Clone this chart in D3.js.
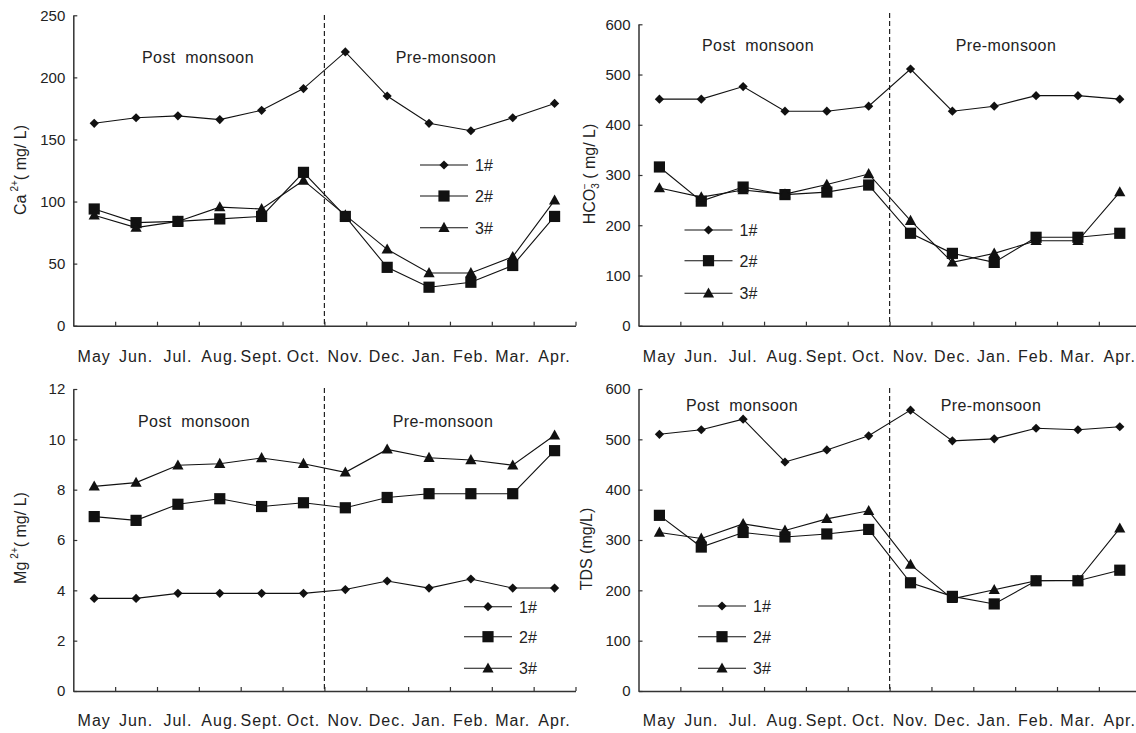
<!DOCTYPE html>
<html>
<head>
<meta charset="utf-8">
<script src="https://cdn.jsdelivr.net/npm/d3@7"></script>
<style>
  body { margin: 0; background: #fff; }
  svg text { font-family: "Liberation Sans", Arial, sans-serif; fill: #222; }
</style>
</head>
<body>
<svg id="chart" width="1136" height="733"></svg>
<script>
// months and sites
const months = ["May", "Jun.", "Jul.", "Aug.", "Sept.", "Oct.", "Nov.", "Dec.", "Jan.", "Feb.", "Mar.", "Apr."];
const sites = ["1#", "2#", "3#"];

// Ca2+ (mg/L)
const ca1 = [163, 167.5, 169, 166, 173.5, 191, 220.5, 185, 163, 157, 167.5, 179];
const ca2 = [94, 83, 84, 86, 88, 123.5, 88, 47, 31, 35, 48.5, 88];
const ca3 = [89, 79, 84, 95.5, 94, 117, 89, 61.5, 42.5, 42.5, 55.5, 101];

// HCO3- (mg/L)
const hco1 = [451, 451, 476, 427, 427, 437, 511, 427, 437, 458, 458, 451];
const hco2 = [316, 248, 276, 261, 266, 280, 184, 144, 126, 176, 176, 184];
const hco3 = [274, 256, 270, 262, 281, 302, 209, 126, 144, 169, 169, 266];

// Mg2+ (mg/L)
const mg1 = [3.68, 3.68, 3.88, 3.88, 3.88, 3.88, 4.03, 4.37, 4.09, 4.45, 4.09, 4.09];
const mg2 = [6.93, 6.78, 7.42, 7.64, 7.33, 7.48, 7.28, 7.69, 7.84, 7.84, 7.84, 9.55];
const mg3 = [8.13, 8.28, 8.97, 9.03, 9.26, 9.03, 8.69, 9.6, 9.27, 9.18, 8.97, 10.16];

// TDS (mg/L)
const tds1 = [510, 519, 540, 455, 479, 507, 558, 497, 501, 522, 519, 525];
const tds2 = [349, 286, 315, 306, 312, 321, 215, 188, 173, 219, 219, 240];
const tds3 = [315, 303, 332, 319, 342, 358, 251, 183, 201, 219, 220, 323];

const caTicks = [0, 50, 100, 150, 200, 250];
const hcoTicks = [0, 100, 200, 300, 400, 500, 600];
const mgTicks = [0, 2, 4, 6, 8, 10, 12];
const tdsTicks = [0, 100, 200, 300, 400, 500, 600];

// custom marker shapes (size = half width)
const diamond = { draw(ctx, r) { ctx.moveTo(0, -r); ctx.lineTo(r, 0); ctx.lineTo(0, r); ctx.lineTo(-r, 0); ctx.closePath(); } };
const square = { draw(ctx, r) { ctx.rect(-r, -r, 2 * r, 2 * r); } };
const triangle = { draw(ctx, r) { ctx.moveTo(0, -r * 1.05); ctx.lineTo(r, r * 0.75); ctx.lineTo(-r, r * 0.75); ctx.closePath(); } };
const markers = [[diamond, 4.6], [square, 5.6], [triangle, 5.6]];

const svg = d3.select('#chart');

function drawPanel(p) {
  const g = svg.append('g');
  const x = d3.scaleBand().domain(months).range([p.x0, p.x0 + 12 * 41.85]).padding(0);
  const xEdge = d3.scaleLinear().domain([0, 12]).range([p.x0, p.x0 + 12 * 41.85]);
  const y = d3.scaleLinear().domain([0, p.ticks[p.ticks.length - 1]]).range([p.yBottom, p.yTop]);

  // x axis with inward ticks at month boundaries
  const xAxisG = g.append('g')
    .attr('transform', `translate(0,${p.yBottom})`)
    .call(d3.axisBottom(xEdge).tickValues(d3.range(1, 13)).tickFormat('').tickSizeInner(-4).tickSizeOuter(0));
  xAxisG.select('.domain').attr('stroke', '#333').attr('stroke-width', 1.5);
  xAxisG.selectAll('.tick line').attr('stroke', '#333').attr('stroke-width', 1.2);

  // month labels
  const mAxis = g.append('g')
    .attr('transform', `translate(0,${p.yBottom})`)
    .call(d3.axisBottom(x).tickSize(0).tickPadding(p.monthPad));
  mAxis.select('.domain').remove();
  mAxis.selectAll('text').attr('font-size', 16).attr('letter-spacing', 1).attr('fill', '#222');

  // y axis, inward ticks
  const yAxisG = g.append('g')
    .attr('transform', `translate(${p.x0},0)`)
    .call(d3.axisLeft(y).tickValues(p.ticks).tickSizeInner(-4).tickSizeOuter(0).tickPadding(8));
  yAxisG.select('.domain').attr('stroke', '#333').attr('stroke-width', 1.5);
  yAxisG.selectAll('.tick line').attr('stroke', '#333').attr('stroke-width', 1.2);
  yAxisG.selectAll('text').attr('font-size', 15).attr('fill', '#222');

  // season divider
  g.append('line')
    .attr('x1', xEdge(6)).attr('x2', xEdge(6))
    .attr('y1', p.dashTop).attr('y2', p.yBottom)
    .attr('stroke', '#222').attr('stroke-width', 1.2)
    .attr('stroke-dasharray', '5,3');

  g.append('text').attr('x', p.post[0]).attr('y', p.post[1])
    .attr('text-anchor', 'middle').attr('font-size', 16).attr('letter-spacing', 0.4)
    .text('Post\u00a0\u00a0monsoon');
  g.append('text').attr('x', p.pre[0]).attr('y', p.pre[1])
    .attr('text-anchor', 'middle').attr('font-size', 16).attr('letter-spacing', 0.4)
    .text('Pre-monsoon');

  // y label
  const lab = g.append('text')
    .attr('transform', `translate(${p.labelX},${p.labelY}) rotate(-90)`)
    .attr('text-anchor', 'middle').attr('font-size', 16);
  p.label(lab);

  const line = d3.line()
    .x((d, i) => x(months[i]) + x.bandwidth() / 2)
    .y(d => y(d));

  p.series.forEach((s, k) => {
    g.append('path').datum(s)
      .attr('d', line)
      .attr('fill', 'none').attr('stroke', '#111').attr('stroke-width', 1.1);
    g.selectAll(null).data(s).enter().append('path')
      .attr('transform', (d, i) => `translate(${x(months[i]) + x.bandwidth() / 2},${y(d)})`)
      .attr('d', d3.symbol().type(markers[k][0]).size(markers[k][1]))
      .attr('fill', '#111');
  });

  // legend
  sites.forEach((name, k) => {
    const ly = p.legend.y[k];
    const lx = p.legend.x;
    g.append('line').attr('x1', lx - 24).attr('x2', lx + 24)
      .attr('y1', ly).attr('y2', ly).attr('stroke', '#111').attr('stroke-width', 1.1);
    g.append('path')
      .attr('transform', `translate(${lx},${ly})`)
      .attr('d', d3.symbol().type(markers[k][0]).size(markers[k][1]))
      .attr('fill', '#111');
    g.append('text').attr('x', lx + 31).attr('y', ly + 6)
      .attr('font-size', 16).text(name);
  });
}

drawPanel({
  x0: 73.3, yTop: 15.3, yBottom: 325.7, dashTop: 15, ticks: caTicks,
  series: [ca1, ca2, ca3], monthPad: 25,
  post: [198, 63], pre: [446, 63],
  labelX: 26, labelY: 170,
  legend: { x: 444, y: [165, 196, 227.7] },
  label: t => {
    t.append('tspan').text('Ca');
    t.append('tspan').attr('font-size', 10).attr('dx', 3).attr('dy', -8).text('2+');
    t.append('tspan').attr('dy', 8).text('( mg/ L)');
  }
});

drawPanel({
  x0: 638.5, yTop: 24.3, yBottom: 325.7, dashTop: 13, ticks: hcoTicks,
  series: [hco1, hco2, hco3], monthPad: 25,
  post: [758, 51], pre: [1006, 51],
  labelX: 595, labelY: 174,
  legend: { x: 708.5, y: [230, 260.7, 293.3] },
  label: t => {
    t.append('tspan').text('HCO');
    t.append('tspan').attr('font-size', 10).attr('dy', 4).text('3');
    t.append('tspan').attr('font-size', 10).attr('dx', -6).attr('dy', -11).text('\u2212');
    t.append('tspan').attr('dy', 7).text('\u00a0( mg/ L)');
  }
});

drawPanel({
  x0: 73.3, yTop: 389, yBottom: 691, dashTop: 388, ticks: mgTicks,
  series: [mg1, mg2, mg3], monthPad: 23.5,
  post: [194, 427], pre: [443, 427],
  labelX: 26, labelY: 538,
  legend: { x: 488, y: [606.7, 636.7, 668.3] },
  label: t => {
    t.append('tspan').text('Mg');
    t.append('tspan').attr('font-size', 10).attr('dx', 3).attr('dy', -8).text('2+');
    t.append('tspan').attr('dy', 8).text('( mg/ L)');
  }
});

drawPanel({
  x0: 638.5, yTop: 389, yBottom: 691, dashTop: 388, ticks: tdsTicks,
  series: [tds1, tds2, tds3], monthPad: 23.5,
  post: [742, 411], pre: [991, 411],
  labelX: 592, labelY: 549,
  legend: { x: 722, y: [606, 636.7, 668.3] },
  label: t => {
    t.append('tspan').text('TDS (mg/L)');
  }
});
</script>
</body>
</html>
